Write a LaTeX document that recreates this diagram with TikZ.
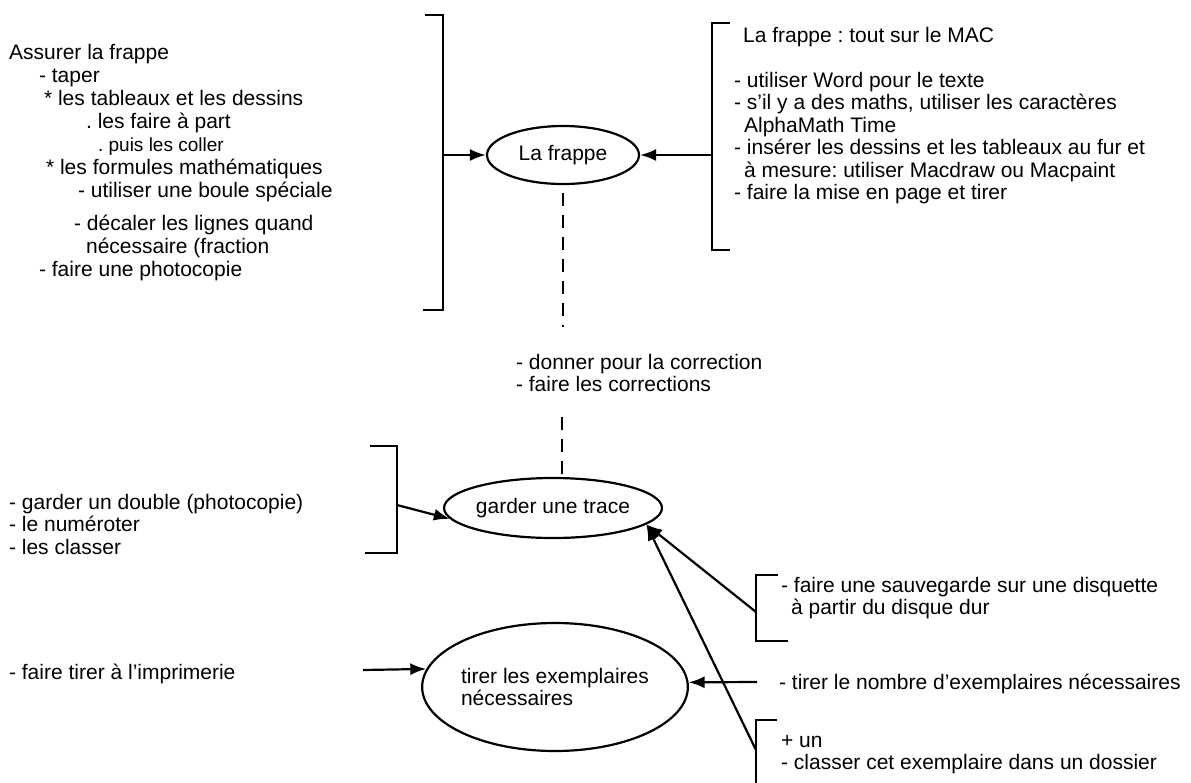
\documentclass[tikz,border=0pt]{standalone}
\usepackage{fontspec}
\setmainfont{Liberation Sans}
\usetikzlibrary{shapes.geometric,arrows.meta}
\frenchspacing

\begin{document}
\begin{tikzpicture}[x=0.5pt, y=-0.5pt, >={Latex[length=8pt,width=6pt]}, line width=1.1pt,
    task/.style={ellipse,draw,inner sep=0pt,font=\fontsize{10.5}{11.25}\selectfont},
    note/.style={anchor=north west,inner sep=0pt,align=left,font=\fontsize{10.5}{11.25}\selectfont},
    dashline/.style={dash pattern=on 6.5pt off 4.5pt}]
    \useasboundingbox (0,0) rectangle (1191,783);

    % les trois taches
    \node[task, minimum width=76pt, minimum height=29pt] (frappe) at (563,155) {La frappe};
    \node[task, minimum width=100pt, minimum height=30pt] (trace) at (553,508) {garder une trace};
    \node[task, minimum width=132pt, minimum height=64pt, align=left] (tirer) at (555,687) {tirer les exemplaires\\nécessaires};

    % les textes
    \node[note, font=\fontsize{10.5}{11.5}\selectfont] (assurer) at (8,43) {Assurer la frappe\\
        \hspace*{15pt}- taper\\
        \hspace*{17.5pt}* les tableaux et les dessins\\
        \hspace*{38.5pt}. les faire à part\\
        \hspace*{44.5pt}{\fontsize{9.5}{11.5}\selectfont . puis les coller}\\
        \hspace*{18.5pt}* les formules mathématiques\\
        \hspace*{34.5pt}- utiliser une boule spéciale\\[5pt]
        \hspace*{32.5pt}- décaler les lignes quand\\
        \hspace*{38.5pt}nécessaire (fraction\\
        \hspace*{15pt}- faire une photocopie};
    \node[note] (mac) at (733,26) {\hspace*{4.5pt}La frappe : tout sur le MAC\\[11.25pt]
        - utiliser Word pour le texte\\
        - s'il y a des maths, utiliser les caractères\\
        \hspace*{5pt}AlphaMath Time\\
        - insérer les dessins et les tableaux au fur et\\
        \hspace*{5pt}à mesure: utiliser Macdraw ou Macpaint\\
        - faire la mise en page et tirer};
    \node[note] (corr) at (515,353) {- donner pour la correction\\- faire les corrections};
    \node[note] (double) at (8,493) {- garder un double (photocopie)\\- le numéroter\\- les classer};
    \node[note] (impr) at (8,663) {- faire tirer à l'imprimerie};
    \node[note] (sauve) at (780,576) {- faire une sauvegarde sur une disquette\\\hspace*{5pt}à partir du disque dur};
    \node[note] (nombre) at (778,673) {- tirer le nombre d'exemplaires nécessaires};
    \node[note] (classer) at (780,734) {+ un\\- classer cet exemplaire dans un dossier};

    % crochets
    \draw (425,15) -- (443,15) -- (443,310) -- (423,310);
    \draw (730,23) -- (712,23) -- (712,250) -- (730,250);
    \draw (370,446) -- (397,446) -- (397,553) -- (365,553);
    \draw (778,575) -- (756,575) -- (756,641) -- (788,641);
    \draw (777,720) -- (756,720) -- (756,783);

    \coordinate (lb) at (443,155);
    \coordinate (rb) at (712,155);
    \coordinate (gb) at (397,505);
    \coordinate (sb) at (756,612);
    \coordinate (cb) at (756,750);
    \coordinate (ib) at (363,670);
    \coordinate (nb) at (757,682);
    \coordinate (d0) at (563,193);
    \coordinate (d1) at (563,327);
    \coordinate (d2) at (562,417);

    \path[->]
        (lb) edge (frappe)
        (rb) edge (frappe)
        (gb) edge (trace.186)
        (sb) edge (trace.-10)
        (cb) edge (trace.-10)
        (ib) edge (tirer.172)
        (nb) edge (tirer.2);

    \draw[dashline] (d0) -- (d1);
    \draw[dashline] (d2) -- (d2 |- trace.north);
\end{tikzpicture}
\end{document}
